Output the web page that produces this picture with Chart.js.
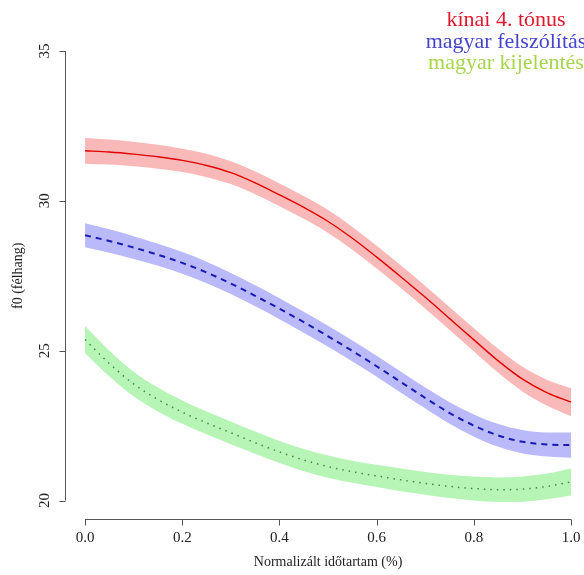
<!DOCTYPE html>
<html>
<head>
<meta charset="utf-8">
<script src="https://cdn.jsdelivr.net/npm/chart.js@4"></script>
<style>
  html, body { margin: 0; padding: 0; background: #fff; overflow: hidden; }
  #wrap { width: 600px; height: 575px; position: relative; }
</style>
</head>
<body>
<div id="wrap"><canvas id="f0chart"></canvas></div>
<script>
// normalised time points
var times = [0, 0.05, 0.1, 0.15, 0.2, 0.25, 0.3, 0.35, 0.4, 0.45, 0.5,
             0.55, 0.6, 0.65, 0.7, 0.75, 0.8, 0.85, 0.9, 0.95, 1.0]

// f0 (semitones) per group
var kinai = [31.67, 31.63, 31.56, 31.47, 31.35, 31.18, 30.94, 30.60, 30.20, 29.78, 29.31,
             28.75, 28.12, 27.46, 26.78, 26.07, 25.36, 24.66, 24.05, 23.60, 23.28]
var felszolitas = [28.85, 28.66, 28.44, 28.20, 27.93, 27.61, 27.24, 26.83, 26.40, 25.95, 25.48,
                   24.99, 24.48, 23.95, 23.42, 22.92, 22.50, 22.17, 21.96, 21.87, 21.85]
var kijelentes = [25.37, 24.57, 23.89, 23.37, 22.95, 22.59, 22.26, 21.93, 21.62, 21.35, 21.13,
                  20.96, 20.82, 20.69, 20.57, 20.47, 20.40, 20.36, 20.38, 20.47, 20.62]

// half width of the confidence bands
var kinaiSe = [0.43, 0.42, 0.41, 0.40, 0.39, 0.39, 0.38, 0.38, 0.38, 0.38, 0.38,
               0.38, 0.38, 0.38, 0.38, 0.38, 0.39, 0.40, 0.41, 0.43, 0.47]
var felszolitasSe = [0.40, 0.39, 0.38, 0.37, 0.36, 0.36, 0.35, 0.35, 0.35, 0.35, 0.35,
                     0.35, 0.35, 0.35, 0.35, 0.36, 0.37, 0.38, 0.39, 0.40, 0.42]
var kijelentesSe = [0.45, 0.43, 0.41, 0.40, 0.39, 0.38, 0.38, 0.37, 0.37, 0.37, 0.37,
                    0.37, 0.37, 0.38, 0.38, 0.39, 0.40, 0.41, 0.42, 0.43, 0.45]

var xTicks = [0, 0.2, 0.4, 0.6, 0.8, 1.0]
var yTicks = [20, 25, 30, 35]
var legendLabels = ['kínai 4. tónus', 'magyar felszólítás', 'magyar kijelentés']
var legendColors = ['#e2192e', '#4444cc', '#a6d64e']

function pts(vals, off, sign){
  var out = []
  for (var i = 0; i < times.length; i++){
    var d = off ? off[i] * sign : 0
    out.push({x: times[i], y: vals[i] + d})
  }
  return out
}

function lineSet(vals, color, dash, width){
  return {
    data: pts(vals),
    borderColor: color,
    borderWidth: width,
    borderDash: dash,
    pointRadius: 0,
    fill: false,
    cubicInterpolationMode: 'monotone'
  }
}

function bandPair(vals, se, color){
  return [
    { data: pts(vals, se, 1), borderWidth: 0, pointRadius: 0, backgroundColor: color,
      fill: '+1', cubicInterpolationMode: 'monotone' },
    { data: pts(vals, se, -1), borderWidth: 0, pointRadius: 0, backgroundColor: color,
      fill: false, cubicInterpolationMode: 'monotone' }
  ]
}

var serif = '"Liberation Serif", "DejaVu Serif", serif'

// R style axes, labels and the coloured text legend
var rAxes = {
  id: 'rAxes',
  afterDraw: function(chart){
    var ctx = chart.ctx
    var xs = chart.scales.x, ys = chart.scales.y
    var area = chart.chartArea
    ctx.save()
    ctx.strokeStyle = '#555'
    ctx.lineWidth = 1
    ctx.fillStyle = '#222'

    // x axis
    var yb = Math.round(area.bottom) + 0.5
    ctx.beginPath()
    ctx.moveTo(xs.getPixelForValue(xTicks[0]), yb)
    ctx.lineTo(xs.getPixelForValue(xTicks[xTicks.length - 1]), yb)
    xTicks.forEach(function(t){
      var px = Math.round(xs.getPixelForValue(t)) + 0.5
      ctx.moveTo(px, yb)
      ctx.lineTo(px, yb + 6)
    })
    ctx.stroke()
    ctx.font = '15px ' + serif
    ctx.textAlign = 'center'
    ctx.textBaseline = 'middle'
    xTicks.forEach(function(t){
      ctx.fillText(t.toFixed(1), xs.getPixelForValue(t), 538)
    })
    ctx.font = '14px ' + serif
    ctx.fillText('Normalizált időtartam (%)', (xs.getPixelForValue(0) + xs.getPixelForValue(1)) / 2, 562)

    // y axis
    var xl = Math.round(area.left) - 0.5
    ctx.beginPath()
    ctx.moveTo(xl, ys.getPixelForValue(yTicks[0]))
    ctx.lineTo(xl, ys.getPixelForValue(yTicks[yTicks.length - 1]))
    yTicks.forEach(function(t){
      var py = Math.round(ys.getPixelForValue(t)) + 0.5
      ctx.moveTo(xl, py)
      ctx.lineTo(xl - 6, py)
    })
    ctx.stroke()
    ctx.font = '15px ' + serif
    yTicks.forEach(function(t){
      ctx.save()
      ctx.translate(45, ys.getPixelForValue(t))
      ctx.rotate(-Math.PI / 2)
      ctx.fillText(String(t), 0, 0)
      ctx.restore()
    })
    ctx.save()
    ctx.font = '14px ' + serif
    ctx.translate(18, (ys.getPixelForValue(20) + ys.getPixelForValue(35)) / 2)
    ctx.rotate(-Math.PI / 2)
    ctx.fillText('f0 (félhang)', 0, 0)
    ctx.restore()

    // legend text
    ctx.font = '22px ' + serif
    ctx.textBaseline = 'alphabetic'
    for (var i = 0; i < legendLabels.length; i++){
      ctx.fillStyle = legendColors[i]
      ctx.fillText(legendLabels[i], 506, 26 + i * 21.5)
    }
    ctx.restore()
  }
}

var datasets = [
  lineSet(kinai, '#e00000', [], 1.4),
  lineSet(felszolitas, '#1a1ab4', [6, 5], 2),
  lineSet(kijelentes, '#3f8f3f', [1.5, 5], 1.5)
].concat(
  bandPair(kinai, kinaiSe, '#f9b9b9'),
  bandPair(felszolitas, felszolitasSe, '#babafb'),
  bandPair(kijelentes, kijelentesSe, '#b6f5b6')
)

new Chart(document.getElementById('f0chart'), {
  type: 'line',
  data: { datasets: datasets },
  plugins: [rAxes],
  options: {
    responsive: true,
    maintainAspectRatio: false,
    animation: false,
    layout: { padding: { left: 65.6, right: 9.4, top: 33, bottom: 56.5 } },
    scales: {
      x: { type: 'linear', min: -0.04, max: 1.04, display: false },
      y: { type: 'linear', min: 19.4, max: 35.6, display: false }
    },
    plugins: {
      legend: { display: false },
      tooltip: { enabled: false }
    }
  }
})
</script>
</body>
</html>
